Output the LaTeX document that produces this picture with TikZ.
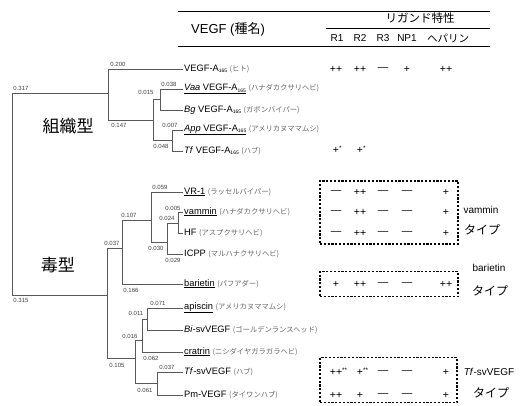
\documentclass[tikz,border=0pt]{standalone}
\usepackage{fontspec}
\setmainfont{Liberation Sans}
\newfontfamily\jpfont{Noto Sans CJK JP}
\newcommand\jpg[1]{{\fontsize{7.3}{8}\selectfont\color{black!60}\jpfont(#1)}}
\newcommand\ulx[1]{\leavevmode\vtop{\hbox{#1}\kern0.6pt\hrule height 0.9pt}}
\newcommand\sbx[1]{\raisebox{-1.3pt}{\fontsize{5}{5}\selectfont #1}}
\newcommand\stx[1]{\rlap{\raisebox{3.5pt}{\fontsize{6.5}{6}\selectfont #1}}}
\newcommand\markrow[7]{%
  \node[mk] (#2a) at (336,#1) {#3};
  \node[mk] (#2b) at (360,#1) {#4};
  \node[mk] (#2c) at (383,#1) {#5};
  \node[mk] (#2d) at (407,#1) {#6};
  \node[mk] (#2e) at (446,#1) {#7};}
\begin{document}
\begin{tikzpicture}[x=1pt,y=-1pt,
  br/.style={draw=black!65,line width=0.75pt},
  leaf/.style={anchor=west,inner sep=1pt,font=\fontsize{9.3}{10}\selectfont},
  bl/.style={inner sep=0pt,font=\fontsize{6}{7}\selectfont,text=black!75},
  mk/.style={inner sep=0pt,font=\fontsize{10.5}{12}\selectfont},
  hd/.style={inner sep=0pt,font=\fontsize{10}{12}\selectfont},
  hline/.style={draw=black,line width=0.9pt},
  dbox/.style={draw=black,line width=1.4pt,dash pattern=on 2.2pt off 1.6pt},
  typ/.style={inner sep=0pt,font=\fontsize{10}{11}\selectfont},
  typj/.style={inner sep=0pt,font=\jpfont\fontsize{12}{13}\selectfont},
  big/.style={inner sep=0pt,font=\jpfont\fontsize{17}{19}\selectfont}]
\useasboundingbox (0,0) rectangle (520,405);

% ---------- header ----------
\coordinate (h1a) at (178,11); \coordinate (h1b) at (490,11);
\coordinate (h2a) at (326,28); \coordinate (h2b) at (490,28);
\coordinate (h3a) at (178,46); \coordinate (h3b) at (490,46);
\draw[hline] (h1a) -- (h1b);
\draw[hline,line width=0.8pt] (h2a) -- (h2b);
\draw[hline] (h3a) -- (h3b);
\node[inner sep=0pt,font=\fontsize{13}{15}\selectfont] (hvegf) at (228,29) {VEGF ({\jpfont 種名})};
\node[inner sep=0pt,font=\jpfont\fontsize{11.5}{13}\selectfont] (hlig) at (420,18) {リガンド特性};
\node[hd] (hR1) at (337,38) {R1};
\node[hd] (hR2) at (360,38) {R2};
\node[hd] (hR3) at (383,38) {R3};
\node[hd] (hNP) at (407,38) {NP1};
\node[hd,font=\jpfont\fontsize{10.5}{12}\selectfont] (hHep) at (448,38) {ヘパリン};

% ---------- leaves ----------
\node[leaf] (l1) at (183,69) {VEGF-A\sbx{165} \jpg{ヒト}};
\node[leaf] (l2) at (183,89) {\ulx{\textit{Vaa} VEGF-A\sbx{165}} \jpg{ハナダカクサリヘビ}};
\node[leaf] (l3) at (183,110) {\textit{Bg} VEGF-A\sbx{165} \jpg{ガボンバイパー}};
\node[leaf] (l4) at (183,130) {\ulx{\textit{App} VEGF-A\sbx{165}} \jpg{アメリカヌママムシ}};
\node[leaf] (l5) at (183,151) {\textit{Tf} VEGF-A\sbx{165} \jpg{ハブ}};
\node[leaf] (l6) at (183,192) {\ulx{VR-1} \jpg{ラッセルバイパー}};
\node[leaf] (l7) at (183,212) {\ulx{vammin} \jpg{ハナダカクサリヘビ}};
\node[leaf] (l8) at (183,233) {HF \jpg{アスプクサリヘビ}};
\node[leaf] (l9) at (183,254) {ICPP \jpg{マルハナクサリヘビ}};
\node[leaf] (l10) at (183,284) {\ulx{barietin} \jpg{パフアダー}};
\node[leaf] (l11) at (183,308) {\ulx{apiscin} \jpg{アメリカヌママムシ}};
\node[leaf] (l12) at (183,330) {\textit{Bi}-svVEGF \jpg{ゴールデンランスヘッド}};
\node[leaf] (l13) at (183,352) {\ulx{cratrin} \jpg{ニシダイヤガラガラヘビ}};
\node[leaf] (l14) at (183,372) {\textit{Tf}-svVEGF \jpg{ハブ}};
\node[leaf] (l15) at (183,395) {Pm-VEGF \jpg{タイワンハブ}};

% ---------- internal nodes ----------
\coordinate (root) at (12,194);
\coordinate (tis) at (108,93);
\coordinate (c1) at (153,120);
\coordinate (c2) at (160,99.5);
\coordinate (c3) at (172,140.5);
\coordinate (tox) at (107,295);
\coordinate (t1) at (122,248);
\coordinate (t3) at (151,220);
\coordinate (t4) at (167,242);
\coordinate (t5) at (178,223);
\coordinate (t2) at (135,358);
\coordinate (t6) at (142,340);
\coordinate (t8) at (147,319);
\coordinate (t7) at (157,383);

% ---------- branches ----------
\draw[br] (root) |- (tis);  \draw[br] (root) |- (tox);
\draw[br] (tis) |- (l1.west); \draw[br] (tis) |- (c1);
\draw[br] (c1) |- (c2); \draw[br] (c1) |- (c3);
\draw[br] (c2) |- (l2.west); \draw[br] (c2) |- (l3.west);
\draw[br] (c3) |- (l4.west); \draw[br] (c3) |- (l5.west);
\draw[br] (tox) |- (t1); \draw[br] (tox) |- (t2);
\draw[br] (t1) |- (t3); \draw[br] (t1) |- (l10.west);
\draw[br] (t3) |- (l6.west); \draw[br] (t3) |- (t4);
\draw[br] (t4) |- (t5); \draw[br] (t4) |- (l9.west);
\draw[br] (t5) |- (l7.west); \draw[br] (t5) |- (l8.west);
\draw[br] (t2) |- (t6); \draw[br] (t2) |- (t7);
\draw[br] (t6) |- (t8); \draw[br] (t6) |- (l13.west);
\draw[br] (t8) |- (l11.west); \draw[br] (t8) |- (l12.west);
\draw[br] (t7) |- (l14.west); \draw[br] (t7) |- (l15.west);

% ---------- branch lengths ----------
\node[bl] (b1) at (21,88) {0.317};
\node[bl] (b2) at (118,64) {0.200};
\node[bl] (b3) at (119,125) {0.147};
\node[bl] (b4) at (146,92) {0.015};
\node[bl] (b5) at (169,84) {0.038};
\node[bl] (b6) at (170,125) {0.007};
\node[bl] (b7) at (161,146) {0.048};
\node[bl] (b8) at (21,300) {0.315};
\node[bl] (b9) at (112,243) {0.037};
\node[bl] (b10) at (131,290) {0.166};
\node[bl] (b11) at (129,215) {0.107};
\node[bl] (b12) at (160,187) {0.059};
\node[bl] (b13) at (156,248) {0.030};
\node[bl] (b14) at (167,218) {0.024};
\node[bl] (b15) at (173,208) {0.005};
\node[bl] (b16) at (173,260) {0.029};
\node[bl] (b17) at (158,303) {0.071};
\node[bl] (b18) at (136,313) {0.011};
\node[bl] (b19) at (130,336) {0.016};
\node[bl] (b20) at (151,358) {0.062};
\node[bl] (b21) at (117,365) {0.105};
\node[bl] (b22) at (167,367) {0.037};
\node[bl] (b23) at (145,390) {0.061};

% ---------- group labels ----------
\node[big] (gtis) at (68,126) {組織型};
\node[big] (gtox) at (58,265) {毒型};

% ---------- ligand table ----------
\markrow{69}{ra}{++}{++}{—}{+}{++}
\node[mk] (rfa) at (336,150) {+\stx{*}};
\node[mk] (rfb) at (360,150) {+\stx{*}};
\markrow{192}{rb}{—}{++}{—}{—}{+}
\markrow{212}{rc}{—}{++}{—}{—}{+}
\markrow{233}{rd}{—}{++}{—}{—}{+}
\markrow{284}{re}{+}{++}{—}{—}{++}
\markrow{372}{rg}{++\stx{**}}{+\stx{**}}{—}{—}{+}
\markrow{395}{rh}{++}{+}{—}{—}{+}

% ---------- dashed boxes ----------
\node[dbox,inner sep=0pt,minimum width=138pt,minimum height=63pt] (bx1) at (389,212.5) {};
\node[dbox,inner sep=0pt,minimum width=138pt,minimum height=25pt] (bx2) at (389,284) {};
\node[dbox,inner sep=0pt,minimum width=137pt,minimum height=45pt] (bx3) at (388.5,380) {};

\node[typ] (ty1) at (481,210) {vammin};
\node[typj] (tj1) at (482,230) {タイプ};
\node[typ] (ty2) at (489,268) {barietin};
\node[typj] (tj2) at (490,291) {タイプ};
\node[typ] (ty3) at (489,372) {\textit{Tf}-svVEGF};
\node[typj] (tj3) at (491,393) {タイプ};
\end{tikzpicture}
\end{document}
